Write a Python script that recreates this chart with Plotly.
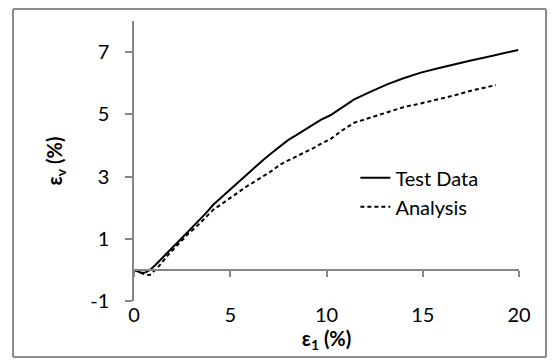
import plotly.graph_objects as go

# Data
test_x = [0.0, 0.2, 0.4, 0.6, 0.83, 1.1, 1.52, 2.0, 2.4, 2.8, 3.26, 3.7, 4.13, 4.6, 5.0, 5.4, 5.87, 6.3, 6.74, 7.2,
          7.6, 8.0, 8.47, 8.9, 9.34, 9.7, 10.2, 10.8, 11.44, 12.3, 13.18, 14.0, 14.9, 15.8, 16.65, 17.5, 18.4, 19.2, 19.96]
test_y = [0.0, -0.05, -0.1, -0.08, 0.0, 0.15, 0.43, 0.72, 0.97, 1.22, 1.51, 1.8, 2.1, 2.36, 2.58, 2.82, 3.06, 3.3, 3.55, 3.78,
          3.98, 4.17, 4.35, 4.52, 4.68, 4.82, 4.97, 5.22, 5.48, 5.73, 5.97, 6.16, 6.34, 6.48, 6.61, 6.73, 6.85, 6.96, 7.07]

ana_x = [0.0, 0.3, 0.6, 0.83, 1.2, 1.8, 2.4, 2.8, 3.26, 3.7, 4.13, 4.6, 5.0, 5.4, 5.87, 6.3, 6.74, 7.2, 7.6, 8.0,
         8.47, 8.9, 9.34, 9.7, 10.2, 10.8, 11.44, 12.3, 13.18, 14.05, 14.9, 15.8, 16.65, 17.5, 18.2, 18.8]
ana_y = [0.0, -0.08, -0.15, -0.16, 0.05, 0.5, 0.91, 1.15, 1.4, 1.68, 1.94, 2.14, 2.31, 2.5, 2.69, 2.85, 3.01, 3.2, 3.39, 3.52,
         3.65, 3.79, 3.92, 4.05, 4.2, 4.48, 4.73, 4.9, 5.05, 5.24, 5.35, 5.48, 5.61, 5.76, 5.86, 5.94]

x_ticks = [0, 5, 10, 15, 20]
x_labels = ["0", "5", "10", "15", "20"]
y_ticks = [-1, 1, 3, 5, 7]
y_labels = ["-1", "1", "3", "5", "7"]
x_range = [0, 20]
y_range = [-1, 8]

FONT = "Lato"
FS = 20
AXIS_COLOR = "#868686"
W, H = 552, 360
ML, MR, MT, MB = 134, 33, 21, 59

fig = go.Figure()
fig.add_trace(go.Scatter(x=test_x, y=test_y, mode="lines", name="Test Data",
                         line=dict(color="black", width=2), xaxis="x", yaxis="y"))
fig.add_trace(go.Scatter(x=ana_x, y=ana_y, mode="lines", name="Analysis",
                         line=dict(color="black", width=2, dash="4px,3px"), xaxis="x2", yaxis="y"))

# position of the y=0 line in the y axis domain
zero_pos = (0 - y_range[0]) / (y_range[1] - y_range[0])

fig.update_layout(
    width=W, height=H,
    margin=dict(l=ML, r=MR, t=MT, b=MB, autoexpand=False),
    paper_bgcolor="white", plot_bgcolor="white",
    font=dict(family=FONT, size=FS, color="black"),
    showlegend=True,
    legend=dict(x=0.575, y=0.51, xanchor="left", yanchor="top",
                bgcolor="rgba(0,0,0,0)", font=dict(size=FS, family=FONT),
                tracegroupgap=0),
    xaxis=dict(range=x_range, tickvals=x_ticks, showticklabels=False,
               anchor="free", position=zero_pos,
               showline=True, linecolor=AXIS_COLOR, linewidth=1.5,
               ticks="outside", ticklen=6, tickcolor=AXIS_COLOR, tickwidth=1.5,
               showgrid=False, zeroline=False, fixedrange=True),
    xaxis2=dict(range=x_range, tickvals=x_ticks, ticktext=x_labels, overlaying="x", anchor="y", side="bottom",
                showline=False, ticks="", showgrid=False, zeroline=False, automargin=False,
                tickfont=dict(size=FS, family=FONT, color="black"),
                title=dict(text="<b>ε<sub>1</sub> (%)</b>", font=dict(size=FS, family=FONT), standoff=5)),
    yaxis=dict(range=y_range, tickvals=y_ticks, ticktext=y_labels, automargin=False,
               showline=True, linecolor=AXIS_COLOR, linewidth=1.5,
               ticks="outside", ticklen=7, tickcolor=AXIS_COLOR, tickwidth=1.5,
               ticklabelstandoff=12,
               showgrid=False, zeroline=False,
               tickfont=dict(size=FS, family=FONT, color="black"),
               title=dict(text="<b>ε<sub>v</sub> (%)</b>", font=dict(size=FS, family=FONT), standoff=22)),
)

# outer chart border (pixel edges converted to paper fractions)
pw, ph = W - ML - MR, H - MT - MB
bx0, bx1 = (13 - ML) / pw, (546 - ML) / pw
by0, by1 = 1 - (357 - MT) / ph, 1 - (9 - MT) / ph
border = dict(color="#8c8c8c", width=2)
for (a, b, c, d) in [(bx0, by1, bx1, by1), (bx1, by0, bx1, by1), (bx0, by0, bx1, by0), (bx0, by0, bx0, by1)]:
    fig.add_shape(type="line", xref="paper", yref="paper", x0=a, y0=b, x1=c, y1=d,
                  line=border, layer="above")

fig.write_html("out.html", config={"displayModeBar": False},
               post_script="document.body.style.margin='0px';")
